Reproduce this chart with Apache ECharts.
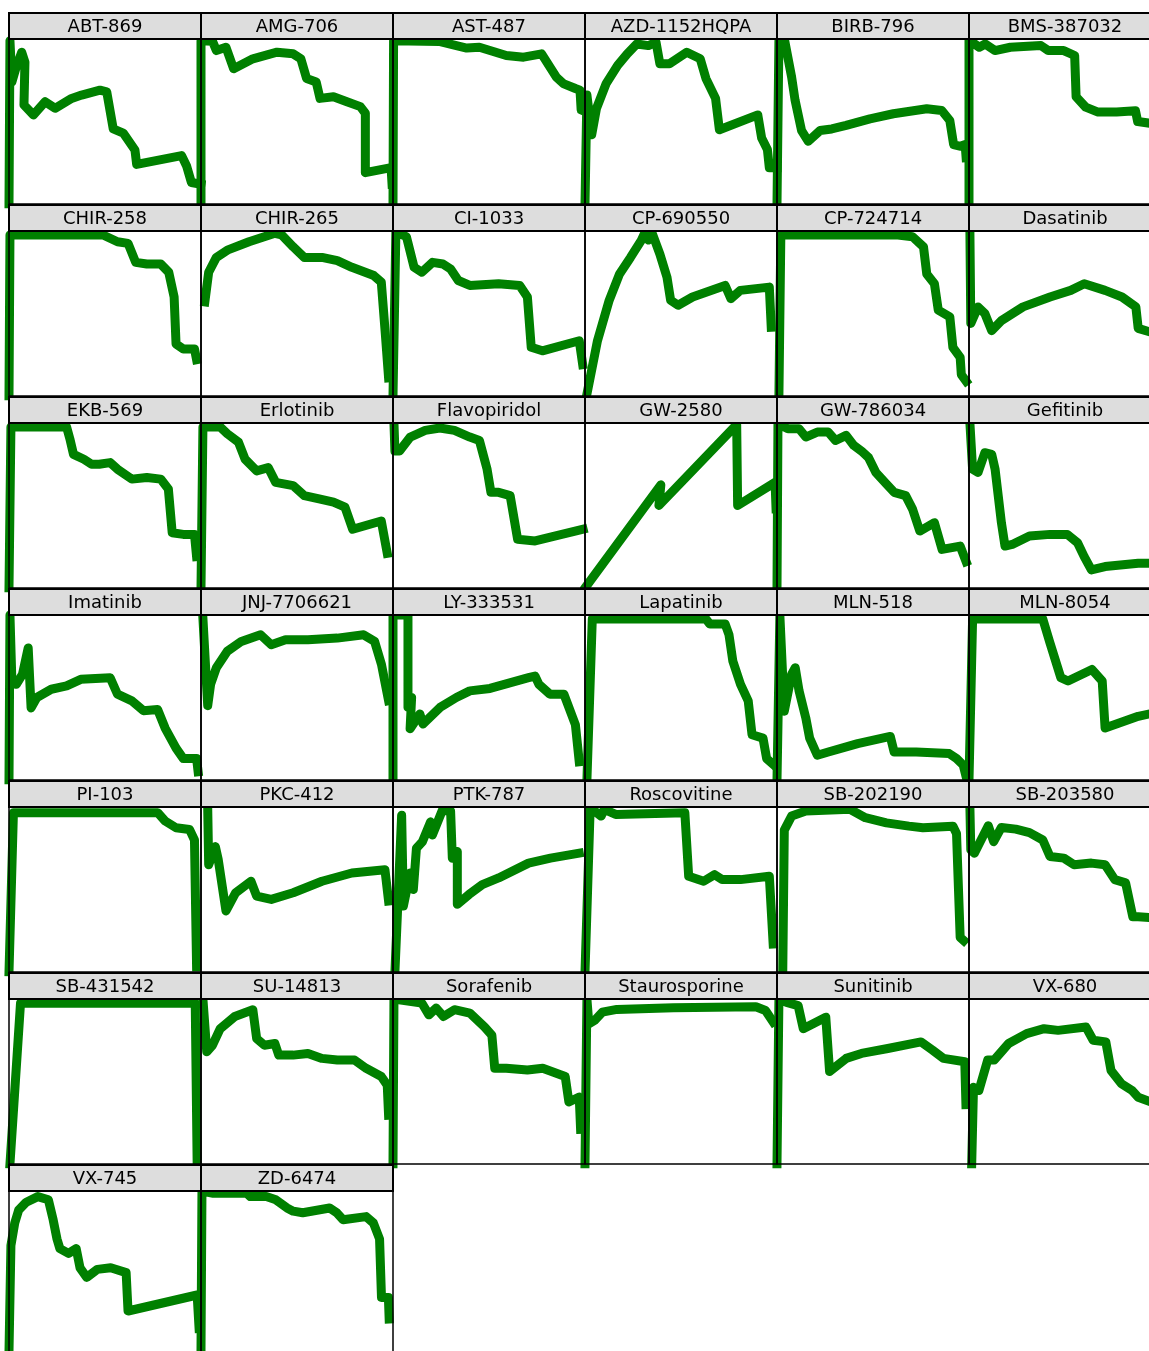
<!DOCTYPE html>
<html>
<head>
<meta charset="utf-8">
<title>Kinase inhibitor response curves</title>
<script src="https://cdn.jsdelivr.net/npm/echarts@6/dist/echarts.min.js"></script>
<style>
  html, body { margin: 0; padding: 0; background: #fff; }
  #chart { width: 1149px; height: 1351px; }
</style>
</head>
<body>
<div id="chart"></div>
<script>
// Panel titles, in facet order (6 per row)
const drugs = [
  'ABT-869', 'AMG-706', 'AST-487', 'AZD-1152HQPA', 'BIRB-796', 'BMS-387032',
  'CHIR-258', 'CHIR-265', 'CI-1033', 'CP-690550', 'CP-724714', 'Dasatinib',
  'EKB-569', 'Erlotinib', 'Flavopiridol', 'GW-2580', 'GW-786034', 'Gefitinib',
  'Imatinib', 'JNJ-7706621', 'LY-333531', 'Lapatinib', 'MLN-518', 'MLN-8054',
  'PI-103', 'PKC-412', 'PTK-787', 'Roscovitine', 'SB-202190', 'SB-203580',
  'SB-431542', 'SU-14813', 'Sorafenib', 'Staurosporine', 'Sunitinib', 'VX-680',
  'VX-745', 'ZD-6474'
];

// Normalised curves: [x %, y %] per drug
const abt869 = [[0,0],[0.5,99],[1.5,74],[3.5,82],[6.6,92],[8.3,86],[7.8,60],[12.7,54],[18.8,62],[24,58],[32.6,64],[37.8,66],[47.4,69],[50.9,68],[54.3,45.5],[59.5,43],[65.6,32.7],[66.5,24],[89.9,29.3],[92.5,23],[95,13],[100,12]];
const amg706 = [[0,0],[0,99],[6,98.6],[8,93],[13,95],[17,82],[27,88],[39.6,92],[48,91],[52,88],[55,76],[60,74],[62,64],[69,65],[76,62],[83,59],[85.6,55],[85.6,19],[99,22],[99.5,12]];
const ast487 = [[0,0],[0.3,99],[24,98.5],[33,96],[38.4,94.5],[45,95],[59,90],[68,89],[77.4,91],[85,77],[88.7,73],[95,70],[97.4,69],[98,57],[100,56]];
const azd1152hqpa = [[0,0],[1,66],[3.5,42],[6,58],[11,73],[17,84],[22,91],[27,97],[33,96],[37,98],[39,85],[44,85],[53,92],[60,88],[63,76],[68,64],[70,45],[90,54],[92,40],[95,33],[96,22],[100,22]];
const birb796 = [[0,0],[1,99],[4,99],[7.6,77],[9.4,63],[12.8,44.5],[16.3,38],[22.4,44.5],[28.5,45.5],[36,47.6],[48.4,51.6],[60.6,54.7],[78,57.7],[85.8,56.7],[90,50.6],[92,36],[95.3,35],[98,36],[98.5,28]];
const bms387032 = [[0,0],[0,99.4],[5.7,95],[9,97],[14.4,93],[23,95],[40,96],[44,93],[52.6,93],[58.7,90],[59.5,65],[64.8,58.7],[71.7,55.7],[82,55.7],[92.5,56.5],[93.7,50],[100,49]];
const chir258 = [[0,0],[0.5,97.6],[33.6,97.6],[49,97.6],[56.5,93.5],[62,92.5],[66,81],[71.8,80],[79,80],[83.2,75],[86,60],[87,31.5],[90.8,28.5],[96.6,28.5],[97.7,22]];
const chir265 = [[2,57],[4,75],[8,84],[13.7,88.4],[25,93.5],[38.5,98.6],[42,97.6],[48,90.4],[53.8,84],[63,84],[71,82],[78.6,78],[90,73],[93.9,69],[96,37.6],[97.7,11]];
const ci1033 = [[0,0],[1.5,99.6],[7,96.5],[11,78],[15,75],[20.6,81],[26,80],[30,77],[34,70],[40,67],[55,68],[66,67],[70,60],[72,29.5],[77.8,27.4],[97,33.5],[98.8,19]];
const cp690550 = [[0.8,0],[6.5,33.5],[12.6,58],[18,74],[23.7,84],[29.4,94.5],[31,98.6],[33,94.5],[35,98.6],[39,86],[42.7,72],[44.6,58],[48.5,55],[56,60],[65.6,64],[73,67],[76,59],[80.9,64],[96,66],[97,41.7]];
const cp724714 = [[1,0],[2,97.6],[63,97.6],[70.6,96.5],[76.3,90.4],[78,74],[82,68],[84,52],[90,48],[91.6,29.5],[95.4,23.4],[96,13],[98.5,9]];
const dasatinib = [[0.5,100],[1,44],[5,54],[8.8,50],[12.6,39.6],[18,45.7],[30,54],[45,60],[56.5,64],[64,68],[75.6,64],[85,60],[92.7,54],[94,41],[100,39]];
const ekb569 = [[0,0],[1,97.6],[22,97.6],[30,97.6],[31.7,90.4],[33.6,81],[39,78],[43,75],[47,75],[52.7,76],[56.5,72],[64,66],[71.8,67],[79,66],[83,60],[85,33.5],[90.8,32.5],[96.6,32.5],[97.7,19]];
const erlotinib = [[0,0],[1,97.6],[10,97.6],[13.7,93.5],[19.5,88.4],[23,78],[29,71],[35,73],[38.9,64],[48,62],[53.8,56],[61.5,54],[69,52],[75,49],[79,35.6],[93.9,40.6],[97,21]];
const flavopiridol = [[0.5,100],[1,83],[3.4,83],[9,91.5],[16.8,95.5],[24.4,97],[32,95.5],[40,91.5],[45,89.4],[49,72],[51,58],[55,58],[61,56],[64.9,29.5],[74,28.5],[99,35.6]];
const gw2580 = [[0,0],[39.5,62.5],[38.5,50],[79,99],[79.5,50],[99,64],[99.5,48]];
const gw786034 = [[0,0],[0.5,99.6],[5.7,96.5],[11.5,96.5],[15,91.5],[21,94.5],[26.7,94.5],[30.5,89.4],[36,92.5],[40,86.4],[44,83],[47.7,79],[51.5,70],[57,63],[61,58],[67,56],[70.6,47.8],[74.4,34.5],[82,39.6],[86,23.4],[95.4,25.4],[98.5,16]];
const gefitinib = [[0.5,100],[2,72],[5,70],[8.8,82],[12.6,81],[14.5,72],[18,39.6],[20,25.4],[24,26.4],[33.6,31.5],[45,32.5],[54.6,32.5],[60.3,27.4],[64,19],[68,11],[75.6,13],[94,15],[100,15]];
const imatinib = [[0,0],[0.5,100],[1.5,60],[3.8,58],[7,64],[10,80],[11.5,43.7],[14.5,50],[22,55],[30,57],[37.4,61],[52.7,62],[56.5,52],[64,48],[70,42],[77.4,42.7],[81.3,31.5],[87,19.3],[90.8,13],[97.7,13],[98.5,5]];
const jnj7706621 = [[1,98],[3.5,45],[5,58],[8,68],[13.7,78],[21,84],[31,88],[36.6,82],[44,85],[55.7,85],[71,86],[84.7,88],[90.4,84],[94,70],[97.7,48]];
const ly333531 = [[0,0],[0,100],[7.8,100],[7.8,44],[9.7,50],[8.9,31],[14,40],[15.6,34],[24.5,44],[33,50],[40,54],[50.5,55.5],[58,58],[70.6,62],[74,63],[76,58],[81.7,52],[89,52],[95,33.5],[97,11]];
const lapatinib = [[1,0],[3.8,97.6],[63,97.6],[65,94.5],[73,94.5],[75,88],[77,72],[81,58],[85,48],[87,27.4],[92.7,25.4],[94.6,13],[98.5,9]];
const mln518 = [[0,0],[1.5,99.6],[3.8,41.7],[7.6,64],[9.5,68],[11.5,54],[15,37.6],[17,25.4],[21,15],[26.7,17],[42,22],[59,26.4],[61,17],[72.5,17],[89.7,16],[93.5,13],[97,9],[98.5,2]];
const mln8054 = [[0,0],[2,97.6],[41,97.6],[45,83],[51,62],[55,60],[68.3,67],[74,60],[75.6,31.5],[94,38.6],[100,40]];
const pi103 = [[0,0],[2.3,96.5],[77.5,96.5],[81.3,91.5],[87,87.4],[94,86.4],[96.6,80],[97.7,3]];
const pkc412 = [[3.5,99],[4,65],[7.5,76],[9,68],[13,37],[18,48],[26,55],[29,46],[36.6,44],[48,48],[63,55],[78.6,60],[95.8,62],[97.7,43]];
const ptk787 = [[1,0],[4.5,95],[5.4,40],[8.9,60],[10.6,50],[12.2,75],[15.3,79],[19.6,91],[20.5,83],[25.7,98],[30,97.5],[30.9,69],[33.5,73],[33.5,41],[39.6,47],[46.5,53],[55,57],[70.6,66],[82,69],[97,72]];
const roscovitine = [[0,0],[2.7,99.6],[8.4,94.5],[10,98.6],[16,95.5],[52,96.5],[54,58],[61.8,55],[67.5,59],[71.4,56],[81,56],[96,58],[98,17]];
const sb202190 = [[3,0],[3.8,86],[7.6,94.5],[15,97.6],[38,98.6],[46,93.5],[57,90.4],[68.7,88.4],[76,87.4],[91.6,88.4],[93.5,84],[95.4,21],[97.3,19]];
const sb203580 = [[0.5,100],[1,74],[3,72],[6.9,80.5],[10.7,88.6],[13.7,79],[18,87.6],[26,86.6],[33.6,84.5],[41,80],[45,70],[52.7,69],[58.4,65],[68,66],[75.6,65],[81,56],[87,54],[91,33.5],[94,33.5],[100,33]];
const sb431542 = [[0.5,0],[6,97.5],[97,97.5],[98,0]];
const su14813 = [[1,100],[3,68],[6,72],[10,82],[17.6,89.4],[27,93.5],[29,76],[33,72],[38.5,73],[40.5,66],[48,66],[55.7,67],[63,64],[71,63],[80,63],[86,58],[93.9,53],[97,47.8],[97.7,29.5]];
const sorafenib = [[0,0],[0.5,100],[15,97.6],[18.7,90.4],[22.5,94.5],[26.3,89.4],[32,93.5],[40,91.5],[47.7,83],[51.5,78],[53,58],[59,58],[70,57],[78,58],[89.7,53],[91.6,37.6],[97,40.6],[97.7,21]];
const staurosporine = [[0,0],[1,100],[2,85],[5,87],[9,92],[16.6,93.7],[46,94.7],[89,95.3],[94,93],[98,86]];
const sunitinib = [[0,0],[1,100],[5,98],[11,96],[13.7,82],[25.4,89],[27.4,56],[36,64],[44,67],[57.7,70],[75,74],[81,69],[86.7,64],[97.8,62],[98.4,36]];
const vx680 = [[1.5,0],[2.5,46.5],[5.5,44.5],[10.4,63],[14,63],[22,73],[32,79],[41.7,82],[49.5,81],[65,83],[69,75],[76,74],[78.9,56.7],[84.7,48.6],[90.6,44.5],[94,40.4],[100,38]];
const vx745 = [[0,0],[1,66],[3,80],[5,88],[9,93],[15,96.5],[20.5,94.5],[23,82],[25,70],[26.5,64],[31,61],[35,64],[37,52],[40.5,46],[46,51],[53,52],[61,49],[62,25],[98,35],[99,14]];
const zd6474 = [[0,0],[0.5,100],[6.4,98.6],[23.8,98.6],[25.7,96.5],[34,96.5],[39,94.5],[44.8,89.4],[48,87.4],[53,86.4],[67,89.4],[70.7,86.4],[74,82],[86,84],[89.8,80],[93,70],[94,33.5],[97.6,33.5],[98,20]];

const curves = [
  abt869, amg706, ast487, azd1152hqpa, birb796, bms387032,
  chir258, chir265, ci1033, cp690550, cp724714, dasatinib,
  ekb569, erlotinib, flavopiridol, gw2580, gw786034, gefitinib,
  imatinib, jnj7706621, ly333531, lapatinib, mln518, mln8054,
  pi103, pkc412, ptk787, roscovitine, sb202190, sb203580,
  sb431542, su14813, sorafenib, staurosporine, sunitinib, vx680,
  vx745, zd6474
];

// Facet layout
const COLS = 6;
const PITCH = 192;      // distance between facets
const PANEL_W = 192;
const TITLE_H = 26;
const PLOT_H = 165;
const ORIGIN_X = 9;
const ORIGIN_Y = 13;

const grid = [], xAxis = [], yAxis = [], series = [], graphic = [];

drugs.forEach((name, i) => {
  const r = Math.floor(i / COLS), c = i % COLS;
  const left = ORIGIN_X + c * PITCH;
  const top = ORIGIN_Y + r * PITCH;

  grid.push({ left: left, top: top + TITLE_H, width: PANEL_W, height: PLOT_H, show: false });
  xAxis.push({ type: 'value', gridIndex: i, min: 0, max: 100, show: false });
  yAxis.push({ type: 'value', gridIndex: i, min: 0, max: 100, show: false });
  series.push({
    type: 'line',
    name: name,
    xAxisIndex: i,
    yAxisIndex: i,
    data: curves[i],
    symbol: 'none',
    showSymbol: false,
    clip: true,
    silent: true,
    lineStyle: { color: '#008000', width: 9, join: 'round', cap: 'square' }
  });

  // title strip
  graphic.push({
    type: 'rect', z: 100,
    shape: { x: left, y: top, width: PANEL_W, height: TITLE_H },
    style: { fill: '#dddddd', stroke: '#000', lineWidth: 2 }
  });
  graphic.push({
    type: 'text', z: 101,
    x: left + PANEL_W / 2, y: top + TITLE_H / 2 + 1,
    style: {
      text: name, fill: '#000', fontSize: 18, fontFamily: 'DejaVu Sans',
      align: 'center', verticalAlign: 'middle'
    }
  });
  // plot frame
  graphic.push({
    type: 'rect', z: 100,
    shape: { x: left, y: top + TITLE_H, width: PANEL_W, height: PLOT_H },
    style: { fill: 'none', stroke: '#000', lineWidth: 1.5 }
  });
});

const chart = echarts.init(document.getElementById('chart'), null, { renderer: 'canvas' });
chart.setOption({
  animation: false,
  backgroundColor: '#ffffff',
  grid: grid,
  xAxis: xAxis,
  yAxis: yAxis,
  series: series,
  graphic: graphic
});
</script>
</body>
</html>
